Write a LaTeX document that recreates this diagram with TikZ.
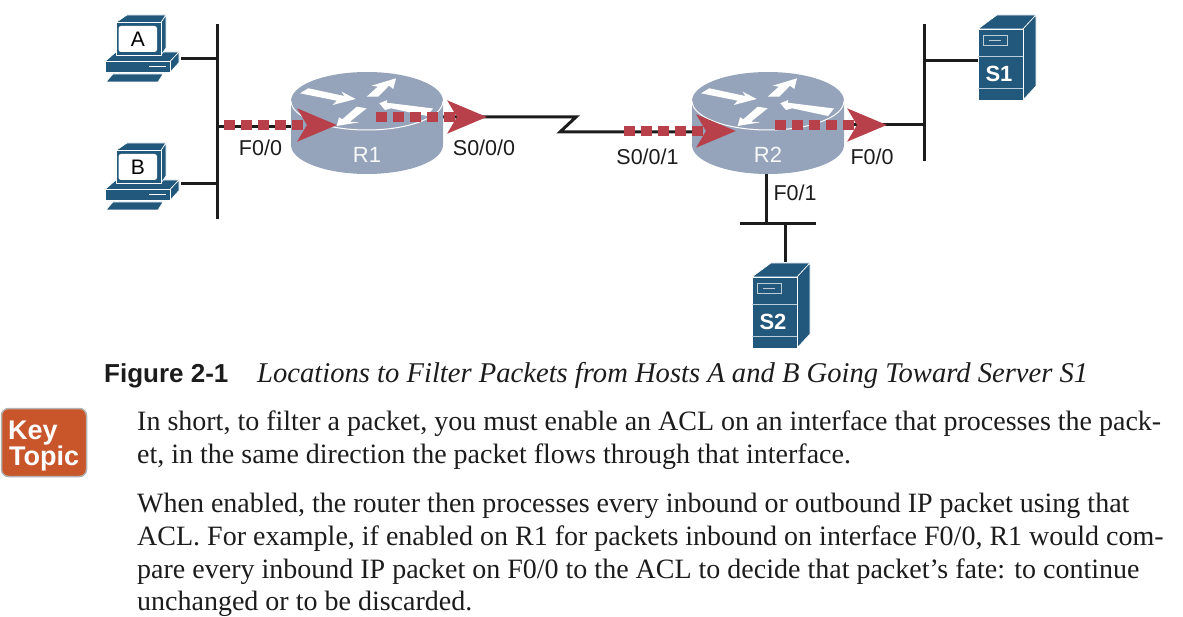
\documentclass[tikz,border=0pt]{standalone}
\usepackage{fontspec}
\setmainfont{Liberation Serif}
\setsansfont{Liberation Sans}
\usepackage{tikz}
\usetikzlibrary{arrows.meta}

\definecolor{iconblue}{HTML}{22587C}
\definecolor{routergray}{HTML}{95A4BA}
\definecolor{flowred}{HTML}{B8404A}
\definecolor{keyorange}{HTML}{C8562A}
\definecolor{inkblack}{HTML}{1C1C1C}

\tikzset{
  netline/.style={draw=inkblack,line width=3pt},
  flowline/.style={flowred,line width=10.5pt,dash pattern=on 11pt off 6pt,
    -{Stealth[length=39pt,width=32pt,inset=9pt]}},
  iconface/.style={fill=iconblue,draw=white,line width=0.6pt,line join=round},
  hostbox/.style={minimum width=77pt,minimum height=88pt,inner sep=0pt},
  routerbox/.style={minimum width=152pt,minimum height=101pt,inner sep=0pt},
  serverbox/.style={minimum width=66pt,minimum height=86pt,inner sep=0pt},
  portlabel/.style={font=\fontsize{21.5}{24}\sffamily,text=inkblack,inner sep=0pt},
  iconlabel/.style={font=\fontsize{21}{24}\sffamily,inner sep=0pt},
  whitelabel/.style={font=\fontsize{22}{24}\sffamily\bfseries,inner sep=0pt},
  bodyline/.style={font=\fontsize{28}{32}\selectfont,text=inkblack,anchor=base west,inner sep=0pt},
}

% PC icon, drawn at the place of host A and moved down by #1
\newcommand{\hostpc}[2]{
\begin{scope}[shift={(0,#1)}]
    \filldraw[iconface] (105,61.5) -- (116,52) -- (179,52) -- (170,61.5) -- cycle;
    \filldraw[iconface] (170,61.5) -- (179,52) -- (179,62.5) -- (170,72.5) -- cycle;
    \filldraw[iconface] (105,61.5) rectangle (170,72.5);
    \draw[white,line width=1pt] (149,67) -- (166,67);
    \filldraw[iconface] (106,82) -- (113,74) -- (163,74) -- (158,82) -- cycle;
    \filldraw[iconface] (116,22.5) -- (127,15) -- (166,15) -- (161,22.5) -- cycle;
    \filldraw[iconface] (161,22.5) -- (166,15) -- (166,48) -- (161,55) -- cycle;
    \filldraw[iconface] (116,22.5) rectangle (161,55);
    \fill[white,rounded corners=2.5pt] (118.5,26) rectangle (157,52);
    \node[iconlabel] (label#2) at (138,39.5) {#2};
\end{scope}
}

% router icon, #1 is the middle of its top face
\newcommand{\ciscorouter}[2]{
\begin{scope}[shift={(#1,101)}]
    \fill[routergray] (-76,0) -- (-76,44) arc[start angle=180,end angle=0,x radius=76,y radius=29]
        -- (76,0) -- cycle;
    \fill[routergray] (0,0) ellipse[x radius=76,y radius=29];
    \draw[white,line width=1pt] (-76,0) arc[start angle=180,end angle=0,x radius=76,y radius=29];
    \fill[white] (-67,-7.7) -- (-58.7,-12.7) -- (-22.7,-5) -- (-25.3,-9.3) -- (-11.3,-2)
        -- (-34.3,4) -- (-30.3,-0.3) -- cycle;
    \fill[white] (-0.3,-4.3) -- (10.7,-14.3) -- (4.7,-15.3) -- (29,-22.7) -- (26.3,-12)
        -- (22,-15.3) -- (11.3,-4.3) -- cycle;
    \fill[white] (12.3,2.3) -- (20.3,-1) -- (19.7,1.7) -- (66,7.5) -- (60,15)
        -- (24,7.3) -- (18,9) -- cycle;
    \fill[white] (-30.3,25) -- (-28,16.3) -- (-24.7,18.3) -- (-10.3,5.7) -- (-0.3,7.3)
        -- (-17,20.7) -- (-8,21.3) -- cycle;
    \node[whitelabel,text=white!92!routergray] (label#2) at (0,54) {\mdseries #2};
\end{scope}
}

% tower server, drawn at the place of S1 and moved by #1
\newcommand{\towerserver}[2]{
\begin{scope}[shift={(#1)}]
    \filldraw[iconface] (978,29) -- (997,15) -- (1036,15) -- (1023,29) -- cycle;
    \filldraw[iconface] (1023,29) -- (1036,15) -- (1036,86) -- (1023,100) -- cycle;
    \filldraw[iconface] (978,29) rectangle (1023,100);
    \draw[white!70!iconblue,line width=1pt] (978,57) -- (1023,57) (978,89) -- (1023,89);
    \draw[white!70!iconblue,line width=0.8pt] (983,35) rectangle (1007,45);
    \draw[white!70!iconblue,line width=0.8pt] (989,40) -- (1001,40);
    \node[whitelabel,text=white] (label#2) at (999,74) {#2};
\end{scope}
}

\begin{document}
\begin{tikzpicture}[x=1pt,y=-1pt]
    \useasboundingbox (0,0) rectangle (1183,617);

    \node[hostbox] (hostA) at (142.5,59) {};
    \node[hostbox] (hostB) at (142.5,184) {};
    \node[routerbox] (R1) at (367,123.5) {};
    \node[routerbox] (R2) at (768,123.5) {};
    \node[serverbox] (S1) at (1011,61) {};
    \node[serverbox] (S2) at (785,305) {};

    \coordinate (busLtop) at (217,24);
    \coordinate (busLbot) at (217,219);
    \coordinate (busRtop) at (924,24);
    \coordinate (busRbot) at (924,161);
    \coordinate (busSleft) at (740,224);
    \coordinate (busSright) at (816,224);
    \coordinate (R1west) at (291,127);
    \coordinate (R1east) at (443,117);
    \coordinate (R2west) at (692,132);
    \coordinate (R2east) at (844,125);
    \coordinate (R2south) at (766,174);
    \coordinate (kinkA) at (576,117);
    \coordinate (kinkB) at (560,132);

    % wires first, the icons lie on top of them
    \draw[netline] (busLtop) -- (busLbot);
    \draw[netline] (busRtop) -- (busRbot);
    \draw[netline] (busSleft) -- (busSright);
    \draw[netline] (hostA.east) -- (hostA.east -| busLtop);
    \draw[netline] (hostB.east) -- (hostB.east -| busLtop);
    \draw[netline] (busLtop |- R1west) -- (R1west);
    \draw[netline,line join=miter] (R1east) -- (kinkA) -- (kinkB) -- (R2west);
    \draw[netline] (R2east) -- (busRtop |- R2east);
    \draw[netline] (S1.west) -- (S1.west -| busRtop);
    \draw[netline] (R2south) -- (R2south |- busSleft);
    \draw[netline] (S2.north) -- (S2.north |- busSleft);

    \hostpc{0}{A}
    \hostpc{128}{B}
    \ciscorouter{367}{R1}
    \ciscorouter{768}{R2}
    \towerserver{0,0}{S1}
    \towerserver{-226,248}{S2}

    % packet flow
    \coordinate (flowAs) at (224,125);
    \coordinate (flowAe) at (337,125);
    \coordinate (flowBs) at (376,117);
    \coordinate (flowBe) at (487,117);
    \coordinate (flowCs) at (624,131);
    \coordinate (flowCe) at (736,131);
    \coordinate (flowDs) at (775,125);
    \coordinate (flowDe) at (887,125);
    \draw[flowline] (flowAs) -- (flowAe);
    \draw[flowline] (flowBs) -- (flowBe);
    \draw[flowline] (flowCs) -- (flowCe);
    \draw[flowline] (flowDs) -- (flowDe);

    \node[portlabel] (portA) at (260.5,148) {F0/0};
    \node[portlabel] (portB) at (484,148) {S0/0/0};
    \node[portlabel] (portC) at (647.5,157) {S0/0/1};
    \node[portlabel] (portD) at (872,157) {F0/0};
    \node[portlabel] (portE) at (795,193) {F0/1};

    \node[font=\fontsize{26}{30}\sffamily\bfseries,text=inkblack,anchor=base west,inner sep=0pt]
        (figtag) at (104,382) {Figure 2-1};
    \node[font=\fontsize{28.6}{32}\itshape,text=inkblack,anchor=base west,inner sep=0pt]
        (figtitle) at (257,382) {Locations to Filter Packets from Hosts A and B Going Toward Server S1};

    \node[fill=keyorange,draw=black!30,line width=1.5pt,rounded corners=7pt,
        minimum width=85pt,minimum height=68pt,inner sep=0pt] (keybox) at (44,442.5) {};
    \node[font=\fontsize{27}{30}\sffamily\bfseries,text=white,anchor=base west,inner sep=0pt]
        (keyA) at (8,439) {Key};
    \node[font=\fontsize{27}{30}\sffamily\bfseries,text=white,anchor=base west,inner sep=0pt]
        (keyB) at (9,465) {Topic};

    \node[bodyline] (textA) at (137,430.5) {In short, to filter a packet, you must enable an ACL on an interface that processes the pack-};
    \node[bodyline] (textB) at (137,463.5) {et, in the same direction the packet flows through that interface.};
    \node[bodyline] (textC) at (137,512) {When enabled, the router then processes every inbound or outbound IP packet using that};
    \node[bodyline] (textD) at (137,545) {ACL. For example, if enabled on R1 for packets inbound on interface F0/0, R1 would com-};
    \node[bodyline] (textE) at (137,578) {pare every inbound IP packet on F0/0 to the ACL to decide that packet’s fate: to continue};
    \node[bodyline] (textF) at (137,610) {unchanged or to be discarded.};
\end{tikzpicture}
\end{document}
